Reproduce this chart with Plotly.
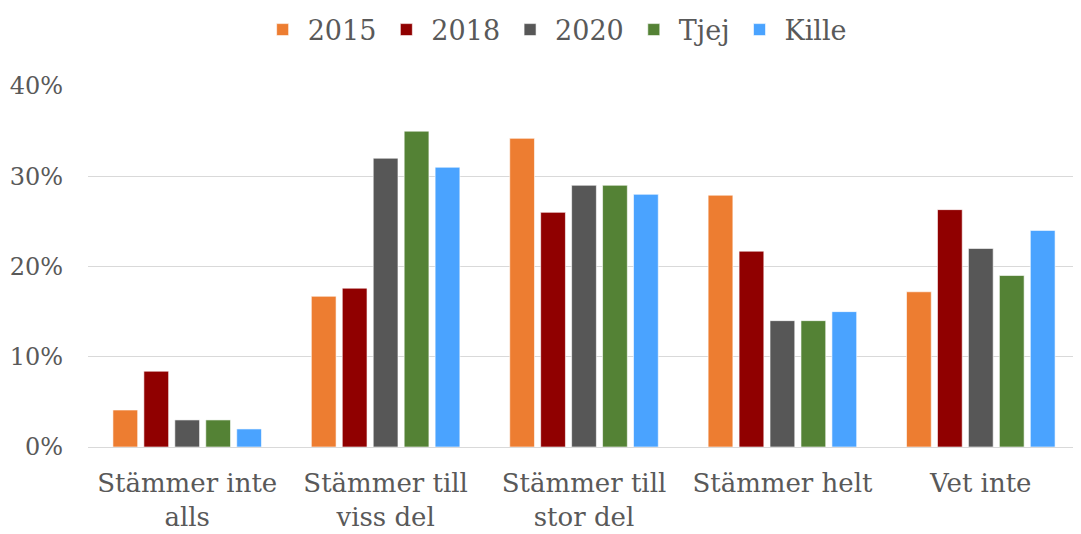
import plotly.graph_objects as go

categories = ["Stämmer inte<br>alls", "Stämmer till<br>viss del", "Stämmer till<br>stor del", "Stämmer helt", "Vet inte"]
series_names = ["2015", "2018", "2020", "Tjej", "Kille"]
v2015 = [0.041, 0.167, 0.342, 0.279, 0.172]
v2018 = [0.084, 0.176, 0.26, 0.217, 0.263]
v2020 = [0.03, 0.32, 0.29, 0.14, 0.22]
vtjej = [0.03, 0.35, 0.29, 0.14, 0.19]
vkille = [0.02, 0.31, 0.28, 0.15, 0.24]
colors = ["#ED7D31", "#900000", "#575757", "#548235", "#4AA3FF"]
tick_vals = [0, 0.1, 0.2, 0.3, 0.4]
tick_text = ["0%", "10%", "20%", "30%", "40%"]

values = [v2015, v2018, v2020, vtjej, vkille]
font_family = "DejaVu Serif"
text_color = "#595959"

fig = go.Figure()
for name, vals, col in zip(series_names, values, colors):
    fig.add_trace(go.Bar(
        x=categories, y=vals, name=name,
        marker=dict(color=col, line=dict(color="rgba(255,255,255,0.6)", width=1)),
    ))

# the page body has an 8px default margin, so the figure is offset by 8px
fig.update_layout(
    width=1073, height=526,
    margin=dict(l=80, r=1, t=78, b=87, autoexpand=False),
    paper_bgcolor="white", plot_bgcolor="white",
    barmode="group", bargap=0.22, bargroupgap=0.2,
    font=dict(family=font_family, size=24, color=text_color),
    legend=dict(orientation="h", x=0.171, xanchor="left", y=1.155, yanchor="middle",
                font=dict(size=27, color=text_color), itemwidth=40,
                traceorder="normal"),
    showlegend=True,
)
fig.update_xaxes(showgrid=False, showline=True, linecolor="#d9d9d9", linewidth=1,
                 ticks="", automargin=False, ticklabelstandoff=13,
                 tickfont=dict(size=26, color=text_color))
fig.update_yaxes(range=[0, 0.4], tickvals=tick_vals, ticktext=tick_text,
                 showgrid=True, gridcolor="#d9d9d9", gridwidth=1, zeroline=False,
                 showline=False, ticks="", automargin=False, ticklabelstandoff=24,
                 tickfont=dict(size=24, color=text_color))

fig.write_html("out.html")
